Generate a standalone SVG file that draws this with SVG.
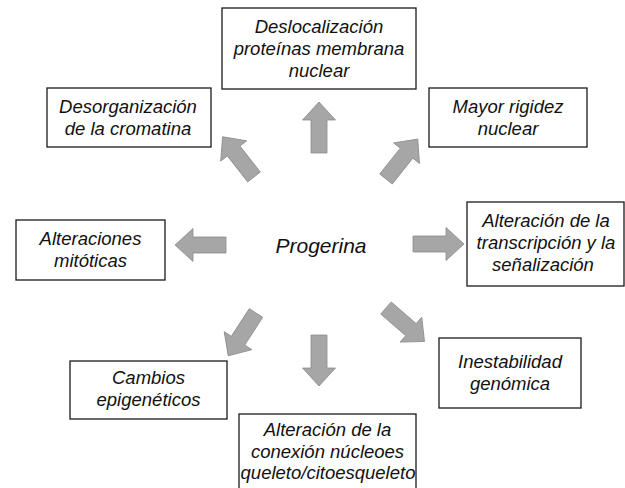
<svg xmlns="http://www.w3.org/2000/svg" width="625" height="488" viewBox="0 0 625 488">
<defs>
<style>
.box rect{fill:#fff;stroke:#1a1a1a;stroke-width:1.3}
.box text,.center{font-family:"Liberation Sans",Arial,sans-serif;font-style:italic;font-size:18.5px;fill:#111;text-anchor:middle}
.center{font-size:21px}
.arr{fill:#a6a6a6;stroke:#8c8c8c;stroke-width:0.8;stroke-linejoin:miter}
</style>
<path id="arrow" d="M0,-8 L33,-8 L33,-16.5 L51,0 L33,16.5 L33,8 L0,8 Z"/>
</defs>
<rect width="625" height="488" fill="#fff"/>
<g id="connectors">
<use href="#arrow" class="arr" transform="translate(319,153) rotate(-90)"/>
<use href="#arrow" class="arr" transform="translate(254,177) rotate(-128)"/>
<use href="#arrow" class="arr" transform="translate(386,179) rotate(-51.5)"/>
<use href="#arrow" class="arr" transform="translate(226,245) rotate(180)"/>
<use href="#arrow" class="arr" transform="translate(413,244)"/>
<use href="#arrow" class="arr" transform="translate(256,313) rotate(123)"/>
<use href="#arrow" class="arr" transform="translate(319,335) rotate(90)"/>
<use href="#arrow" class="arr" transform="translate(386,308) rotate(41)"/>
</g>
<g id="progerina"><text class="center" x="321" y="253">Progerina</text></g>
<g id="deslocalizacion" class="box">
<rect x="222" y="8" width="194" height="81"/>
<text x="319" y="33">Deslocalización</text>
<text x="319" y="55">proteínas membrana</text>
<text x="319" y="77">nuclear</text>
</g>
<g id="desorganizacion" class="box">
<rect x="47" y="88" width="164" height="59"/>
<text x="128" y="113">Desorganización</text>
<text x="128" y="135">de la cromatina</text>
</g>
<g id="rigidez" class="box">
<rect x="429" y="88" width="158" height="59"/>
<text x="508" y="113">Mayor rigidez</text>
<text x="508" y="135">nuclear</text>
</g>
<g id="mitoticas" class="box">
<rect x="16" y="220" width="149" height="60"/>
<text x="90.5" y="245">Alteraciones</text>
<text x="90.5" y="267">mitóticas</text>
</g>
<g id="transcripcion" class="box">
<rect x="467" y="202" width="157" height="84"/>
<text x="546" y="227">Alteración de la</text>
<text x="546" y="249">transcripción y la</text>
<text x="543" y="271">señalización</text>
</g>
<g id="epigeneticos" class="box">
<rect x="70" y="361" width="157" height="58"/>
<text x="148.5" y="384">Cambios</text>
<text x="148.5" y="406">epigenéticos</text>
</g>
<g id="conexion" class="box">
<rect x="239" y="414" width="177" height="90"/>
<text x="327.5" y="436">Alteración de la</text>
<text x="327.5" y="458">conexión núcleoes</text>
<text x="328" y="479">queleto/citoesqueleto</text>
</g>
<g id="inestabilidad" class="box">
<rect x="439" y="338" width="142" height="70"/>
<text x="510" y="368">Inestabilidad</text>
<text x="510" y="390">genómica</text>
</g>
</svg>
